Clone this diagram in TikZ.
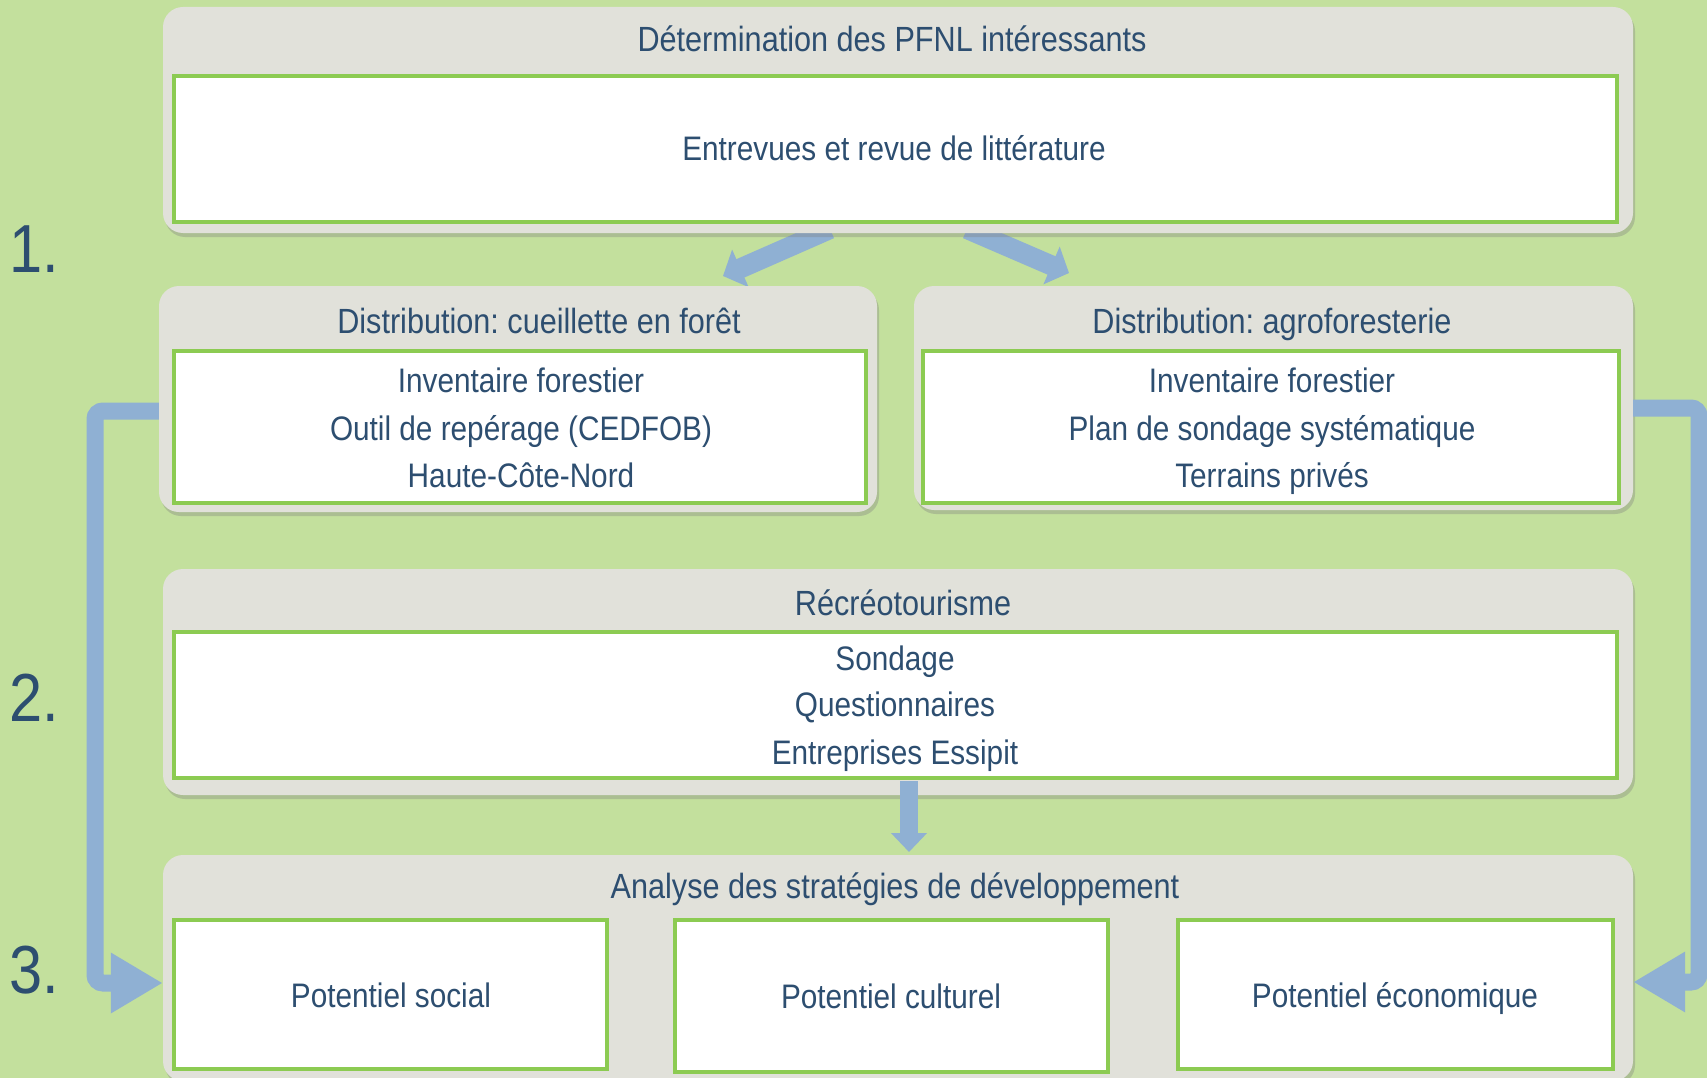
\documentclass[tikz,border=0pt]{standalone}
\usepackage{fontspec}
\setmainfont{Liberation Sans}[FakeStretch=0.875]
\usetikzlibrary{arrows.meta,shadows}
\definecolor{bgc}{HTML}{C3E09D}
\definecolor{boxgray}{HTML}{E1E1DA}
\definecolor{grn}{HTML}{8CCB52}
\definecolor{arr}{HTML}{8FB0D3}
\definecolor{txt}{HTML}{2D4E70}
\newcommand\ttlsize{\fontsize{35}{38}\selectfont}
\newcommand\bodysize{\fontsize{34}{37}\selectfont}
\newcommand\numsize{\fontsize{68}{72}\selectfont}
\frenchspacing
\begin{document}
\begin{tikzpicture}[x=1pt,y=-1pt,
  outerbox/.style={draw=none, fill=boxgray, rounded corners=20pt, inner sep=0pt,
    drop shadow={shadow xshift=2pt, shadow yshift=-4pt, opacity=0.35}},
  innerbox/.style={draw=grn, line width=4.5pt, fill=white, inner sep=0pt},
  ttl/.style={text=txt, font=\ttlsize, anchor=base, inner sep=0pt},
  body/.style={text=txt, font=\bodysize, anchor=base, inner sep=0pt},
  num/.style={text=txt, font=\numsize, anchor=base west, inner sep=0pt},
  toparrow/.style={draw=arr, line width=20pt, -{Triangle[length=19pt,width=40pt]}},
  midarrow/.style={draw=arr, line width=18pt, -{Triangle[length=19pt,width=35pt]}},
  sidearrow/.style={draw=arr, line width=17pt, rounded corners=8pt, -{Triangle[length=52pt,width=57pt]}}
]
\useasboundingbox (0,0) rectangle (1707,1078);
\fill[bgc] (0,0) rectangle (1707,1078);

% top diagonal arrows (under box 1)
\coordinate (A1s) at (830,229);
\coordinate (A1e) at (723,276);
\coordinate (A2s) at (967,229);
\coordinate (A2e) at (1069,273);
\draw[toparrow] (A1s) -- (A1e);
\draw[toparrow] (A2s) -- (A2e);

% outer boxes
\node[outerbox, minimum width=1470pt, minimum height=226pt] (b1) at (898,120) {};
\node[outerbox, minimum width=718pt, minimum height=226pt] (b2) at (518,399) {};
\node[outerbox, minimum width=719pt, minimum height=224pt] (b3) at (1273.5,398) {};
\node[outerbox, minimum width=1470pt, minimum height=226pt] (b4) at (898,682) {};
\node[outerbox, minimum width=1470pt, minimum height=226pt] (b5) at (898,968) {};

% inner boxes
\node[innerbox, minimum width=1443pt, minimum height=146pt] (b1in) at (895.5,149) {};
\node[innerbox, minimum width=692pt, minimum height=152pt] (b2in) at (520,427) {};
\node[innerbox, minimum width=696pt, minimum height=152pt] (b3in) at (1271,427) {};
\node[innerbox, minimum width=1443pt, minimum height=146pt] (b4in) at (895.5,705) {};
\node[innerbox, minimum width=433pt, minimum height=149pt] (b5a) at (390.5,994.5) {};
\node[innerbox, minimum width=433pt, minimum height=152pt] (b5b) at (891.5,996) {};
\node[innerbox, minimum width=435pt, minimum height=149pt] (b5c) at (1395.5,994.5) {};

% texts
\node[ttl] (t1) at (892,52) {Détermination des PFNL intéressants};
\node[body] (t1a) at (894,161) {Entrevues et revue de littérature};

\node[ttl] (t2) at (539,333) {Distribution: cueillette en forêt};
\node[body] (t2a) at (521,392) {Inventaire forestier};
\node[body] (t2b) at (521,440) {Outil de repérage (CEDFOB)};
\node[body] (t2c) at (521,487) {Haute-Côte-Nord};

\node[ttl] (t3) at (1272,333) {Distribution: agroforesterie};
\node[body] (t3a) at (1272,392) {Inventaire forestier};
\node[body] (t3b) at (1272,440) {Plan de sondage systématique};
\node[body] (t3c) at (1272,487) {Terrains privés};

\node[ttl] (t4) at (903,615) {Récréotourisme};
\node[body] (t4a) at (895,670) {Sondage};
\node[body] (t4b) at (895,716.5) {Questionnaires};
\node[body] (t4c) at (895,764) {Entreprises Essipit};

\node[ttl] (t5) at (895,898) {Analyse des stratégies de développement};
\node[body] (t5a) at (391,1007) {Potentiel social};
\node[body] (t5b) at (891,1008) {Potentiel culturel};
\node[body] (t5c) at (1395,1007) {Potentiel économique};

% step numbers
\node[num] (n1) at (9,272) {1.};
\node[num] (n2) at (9,721) {2.};
\node[num] (n3) at (9,993) {3.};

% middle arrow
\coordinate (M1) at (909,781);
\coordinate (M2) at (909,852);
\draw[midarrow] (M1) -- (M2);

% side connectors
\coordinate (L1) at (95,411);
\coordinate (L2) at (95,983);
\draw[sidearrow] (b2.west |- L1) -- (L1) -- (L2) -- (b5.west |- L2);
\coordinate (R1) at (1699,408);
\coordinate (R2) at (1699,982);
\draw[sidearrow] (b3.east |- R1) -- (R1) -- (R2) -- (b5.east |- R2);
\end{tikzpicture}
\end{document}
